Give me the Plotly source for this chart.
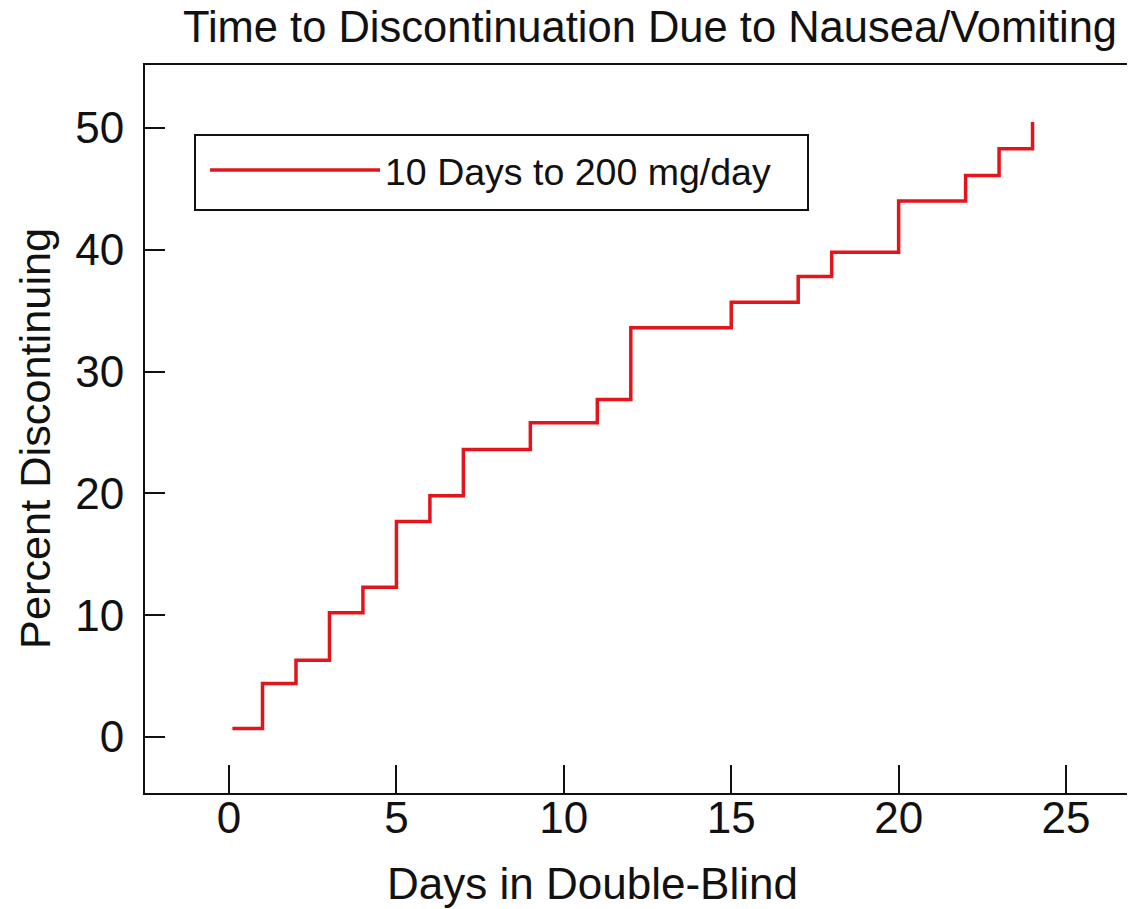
import plotly.graph_objects as go

# Data (step function, level starts at each day)
days = [0.1, 1, 2, 3, 4, 5, 6, 7, 9, 11, 12, 15, 17, 18, 20, 22, 23, 24]
pct = [0.7, 4.4, 6.3, 10.2, 12.3, 17.7, 19.8, 23.6, 25.8, 27.7, 33.6, 35.7, 37.8, 39.8, 44.0, 46.1, 48.3, 50.5]
series_name = "10 Days to 200 mg/day"
x_ticks = [0, 5, 10, 15, 20, 25]
y_ticks = [0, 10, 20, 30, 40, 50]
title_text = "Time to Discontinuation Due to Nausea/Vomiting"
x_title = "Days in Double-Blind"
y_title = "Percent Discontinuing"

FONT = "Liberation Sans, Arial, sans-serif"
INK = "#111111"

# page body adds an 8px offset, so figure coords = screen coords - 8
L, T, R, B = 137, 57, 1127, 785
PW, PH = R - L, B - T

def px(xs):
    return (xs - 8 - L) / PW

def py(ys):
    return 1 - (ys - 8 - T) / PH

fig = go.Figure()
fig.add_trace(go.Scatter(
    x=days, y=pct, mode="lines", name=series_name,
    line=dict(color="#e3141c", width=3.5, shape="hv"),
))

fig.update_layout(
    width=1135, height=909,
    margin=dict(l=L, r=1135 - R, t=T, b=909 - B, autoexpand=False),
    paper_bgcolor="white", plot_bgcolor="white",
    font=dict(family=FONT, color=INK, size=44),
    title=dict(text=title_text,
               xref="container", x=642/1135, xanchor="center",
               yref="container", y=1 - 19/909, yanchor="middle",
               font=dict(size=43.5, family=FONT, color=INK)),
    showlegend=True,
    legend=dict(x=px(205), y=py(139), xref="paper", yref="paper",
                xanchor="left", yanchor="top",
                borderwidth=0, bgcolor="rgba(0,0,0,0)",
                font=dict(size=37.5, family=FONT, color=INK),
                itemwidth=170),
    shapes=[dict(type="rect", xref="paper", yref="paper",
                 x0=px(195), x1=px(808), y0=py(210), y1=py(135),
                 line=dict(color=INK, width=2), fillcolor="rgba(0,0,0,0)", layer="below")],
    annotations=[
        dict(text=x_title, xref="paper", yref="paper", x=px(592), y=py(883),
             xanchor="center", yanchor="middle", showarrow=False,
             font=dict(size=44, family=FONT, color=INK)),
        dict(text=y_title, xref="paper", yref="paper", x=px(35), y=py(439),
             xanchor="center", yanchor="middle", showarrow=False, textangle=-90,
             font=dict(size=43.3, family=FONT, color=INK)),
    ],
)
fig.update_xaxes(
    range=[-2.51, 27.06], tickvals=x_ticks, ticktext=[str(v) for v in x_ticks],
    showgrid=False, zeroline=False, showline=True, linecolor=INK, linewidth=2,
    mirror=True, ticks="inside", ticklen=28, tickwidth=2, tickcolor=INK,
    automargin=False, ticklabelstandoff=-15,
    tickfont=dict(size=44),
)
fig.update_yaxes(
    range=[-4.6, 55.17], tickvals=y_ticks, ticktext=[str(v) for v in y_ticks],
    showgrid=False, zeroline=False, showline=True, linecolor=INK, linewidth=2,
    mirror=False, ticks="inside", ticklen=20, tickwidth=2, tickcolor=INK,
    automargin=False, ticklabelstandoff=10,
    tickfont=dict(size=44),
)

fig.write_html("out.html")
